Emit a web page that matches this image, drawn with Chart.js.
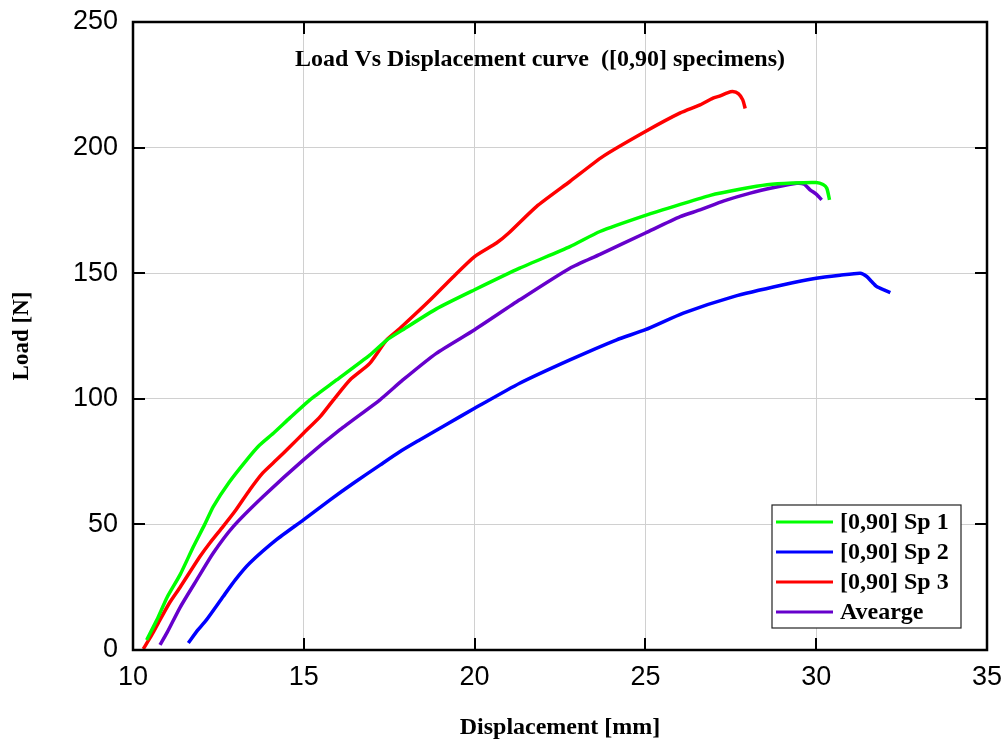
<!DOCTYPE html>
<html>
<head>
<meta charset="utf-8">
<script src="https://cdn.jsdelivr.net/npm/chart.js@4.4.1/dist/chart.umd.min.js"></script>
<style>
  html, body { margin: 0; padding: 0; background: #fff; }
  #wrap { width: 1005px; height: 743px; }
</style>
</head>
<body>
<div id="wrap"><canvas id="chart" width="1005" height="743"></canvas></div>
<script>
// Load vs displacement, [0,90] specimens
const xTicks = [10, 15, 20, 25, 30, 35];
const yTicks = [0, 50, 100, 150, 200, 250];

const seriesNames = ['[0,90] Sp 1', '[0,90] Sp 2', '[0,90] Sp 3', 'Avearge'];
const seriesColors = ['#00ff00', '#0000ff', '#ff0000', '#6600cc'];

const sp1X = [10.40, 10.70, 11.00, 11.38, 11.77, 12.10, 12.35, 12.80, 13.33, 13.70, 14.11, 14.60, 15.18, 15.96, 16.93, 17.42, 17.90, 18.88, 20.00, 21.32, 22.79, 23.67, 25.00, 26.00, 26.90, 27.80, 28.56, 29.30, 30.00, 30.20, 30.31, 30.39];
const sp1Y = [4, 12, 21, 30, 41.2, 50, 57.1, 66.5, 75.7, 81.5, 86.3, 92.5, 99.6, 107.5, 117.4, 123.3, 127.5, 135.8, 143.4, 152, 160.6, 166.6, 173, 177.3, 181, 183.5, 185.2, 185.9, 186.1, 185.3, 183.8, 179.2];

const sp2X = [11.62, 11.90, 12.15, 12.64, 13.00, 13.42, 14.20, 14.99, 15.77, 16.45, 17.23, 17.82, 18.39, 19.20, 20.00, 21.32, 22.79, 24.16, 25.00, 26.11, 27.58, 29.04, 30.00, 30.70, 31.29, 31.48, 31.62, 31.77, 32.00, 32.17];
const sp2Y = [2.8, 8, 12, 21.3, 28, 34.6, 43.9, 51.8, 59.8, 66.4, 73.6, 79, 83.6, 90, 96.2, 106.2, 115.5, 123.5, 127.5, 134.1, 140.7, 145.4, 148, 149.2, 150, 148.7, 146.7, 144.7, 143.3, 142.3];

const sp3X = [10.30, 10.55, 10.79, 11.08, 11.38, 11.96, 12.25, 12.64, 13.00, 13.42, 13.80, 14.20, 14.60, 14.99, 15.48, 15.87, 16.35, 16.93, 17.42, 17.81, 18.69, 19.37, 20.00, 20.64, 21.00, 21.81, 22.79, 23.76, 25.00, 26.02, 26.60, 26.98, 27.17, 27.40, 27.55, 27.72, 27.85, 27.92];
const sp3Y = [0.4, 6, 12, 19, 25, 37.2, 42.6, 49.2, 55.5, 63.8, 70.5, 75.7, 81, 86.3, 92.9, 99.6, 107.5, 114.1, 123.4, 128, 139.2, 148.5, 156.6, 162, 166, 176.5, 186.5, 196.5, 206.4, 213.8, 217, 219.7, 220.5, 221.8, 222.3, 221.5, 219, 215.6];

const avgX = [10.79, 11.00, 11.38, 11.87, 12.35, 12.94, 13.81, 14.99, 16.06, 17.23, 17.90, 18.88, 20.00, 21.32, 22.79, 23.67, 25.00, 26.02, 26.60, 27.30, 28.07, 28.80, 29.43, 29.65, 29.82, 30.00, 30.16];
const avgY = [2, 7, 17, 28, 38.6, 49.2, 61.1, 75.7, 87.7, 99.6, 107.5, 118.1, 127.5, 139.4, 152, 157.5, 166, 172.5, 175.2, 178.8, 181.9, 184.2, 185.8, 185.4, 183.2, 181.5, 179.2];

const SERIF = '"Liberation Serif", "Times New Roman", serif';
const SANS = '"Liberation Sans", Arial, sans-serif';

function toPoints(xs, ys) {
    return xs.map((x, i) => ({ x: x, y: ys[i] }));
}

const allSeries = [[sp1X, sp1Y], [sp2X, sp2Y], [sp3X, sp3Y], [avgX, avgY]];
const datasets = allSeries.map((s, i) => ({
    label: seriesNames[i],
    data: toPoints(s[0], s[1]),
    borderColor: seriesColors[i],
    backgroundColor: seriesColors[i],
    borderWidth: 3.5,
    pointRadius: 0,
    showLine: true,
    tension: 0.2,
    fill: false
}));

// frame round the plot + inward ticks on all four sides
const framePlugin = {
    id: 'frame',
    afterDatasetsDraw(chart) {
        const { ctx, chartArea: a, scales } = chart;
        ctx.save();
        ctx.strokeStyle = '#000';
        ctx.lineWidth = 2;
        const len = 12;
        xTicks.forEach(v => {
            const px = Math.round(scales.x.getPixelForValue(v));
            ctx.beginPath();
            ctx.moveTo(px, a.bottom); ctx.lineTo(px, a.bottom - len);
            ctx.moveTo(px, a.top); ctx.lineTo(px, a.top + len);
            ctx.stroke();
        });
        yTicks.forEach(v => {
            const py = Math.round(scales.y.getPixelForValue(v));
            ctx.beginPath();
            ctx.moveTo(a.left, py); ctx.lineTo(a.left + len, py);
            ctx.moveTo(a.right, py); ctx.lineTo(a.right - len, py);
            ctx.stroke();
        });
        ctx.lineWidth = 2.5;
        ctx.strokeRect(a.left, a.top, a.right - a.left, a.bottom - a.top);

        // title inside the plot
        ctx.fillStyle = '#000';
        ctx.font = 'bold 24px ' + SERIF;
        ctx.textAlign = 'center';
        ctx.textBaseline = 'alphabetic';
        ctx.fillText('Load Vs Displacement curve  ([0,90] specimens)', (a.left + a.right) / 2 - 20, a.top + 44);
        ctx.restore();
    }
};

// legend box in lower right corner of the plot
const insetLegend = {
    id: 'insetLegend',
    afterDraw(chart) {
        const { ctx, chartArea: a } = chart;
        const w = 189, h = 123;
        const bx = a.right - 26 - w, by = a.bottom - 22 - h;
        ctx.save();
        ctx.fillStyle = '#fff';
        ctx.fillRect(bx, by, w, h);
        ctx.strokeStyle = '#222';
        ctx.lineWidth = 1.2;
        ctx.strokeRect(bx, by, w, h);
        ctx.font = 'bold 24px ' + SERIF;
        ctx.textAlign = 'left';
        ctx.textBaseline = 'middle';
        chart.data.datasets.forEach((ds, i) => {
            const cy = by + 17 + i * 30;
            ctx.strokeStyle = ds.borderColor;
            ctx.lineWidth = 3;
            ctx.beginPath();
            ctx.moveTo(bx + 4, cy); ctx.lineTo(bx + 61, cy);
            ctx.stroke();
            ctx.fillStyle = '#000';
            ctx.fillText(ds.label, bx + 68, cy + 1);
        });
        ctx.restore();
    }
};

new Chart(document.getElementById('chart'), {
    type: 'scatter',
    data: { datasets: datasets },
    options: {
        responsive: false,
        animation: false,
        devicePixelRatio: 1,
        layout: { padding: { top: 22, right: 18, left: 0, bottom: 0 } },
        plugins: {
            legend: { display: false },
            tooltip: { enabled: false }
        },
        scales: {
            x: {
                type: 'linear',
                min: 10,
                max: 35,
                afterBuildTicks: s => { s.ticks = xTicks.map(v => ({ value: v })); },
                afterFit: s => { s.height = 93; s.paddingLeft = 0; s.paddingRight = 0; },
                ticks: { color: '#000', padding: 11, font: { family: SANS, size: 27 } },
                grid: { color: '#d0d0d0', lineWidth: 1, drawTicks: false },
                border: { display: false },
                title: {
                    display: true,
                    text: 'Displacement [mm]',
                    color: '#000',
                    font: { family: SERIF, size: 24, weight: 'bold' },
                    padding: { top: 0, bottom: 1 }
                }
            },
            y: {
                type: 'linear',
                min: 0,
                max: 250,
                afterBuildTicks: s => { s.ticks = yTicks.map(v => ({ value: v })); },
                afterFit: s => { s.width = 133; s.paddingTop = 0; s.paddingBottom = 0; },
                ticks: { color: '#000', padding: 15, font: { family: SANS, size: 27 } },
                grid: { color: '#d0d0d0', lineWidth: 1, drawTicks: false },
                border: { display: false },
                title: {
                    display: true,
                    text: 'Load [N]',
                    color: '#000',
                    font: { family: SERIF, size: 23, weight: 'bold' },
                    padding: { top: 8, bottom: 0 }
                }
            }
        }
    },
    plugins: [framePlugin, insetLegend]
});
</script>
</body>
</html>
